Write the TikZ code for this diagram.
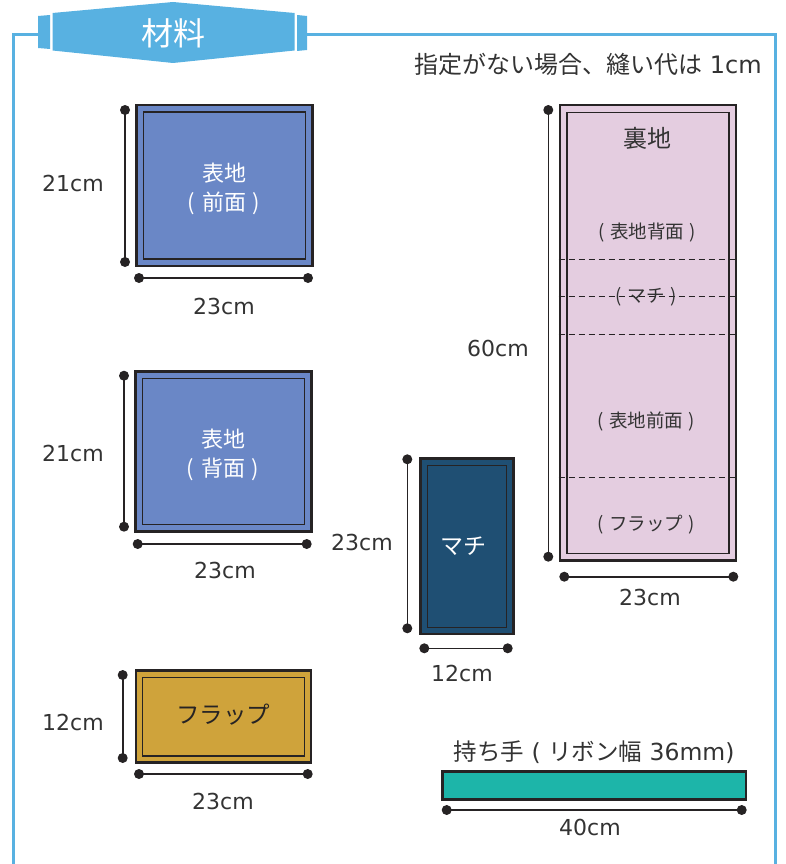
\documentclass[tikz,border=0pt]{standalone}
\usepackage{fontspec}
\setmainfont{DejaVu Sans}
\newfontfamily\jp{Noto Sans CJK JP}
\usetikzlibrary{calc}
\definecolor{frameblue}{HTML}{58B1E1}
\definecolor{dark}{HTML}{262324}
\definecolor{txt}{HTML}{333333}
\definecolor{omote}{HTML}{6A87C6}
\definecolor{machi}{HTML}{1F4F73}
\definecolor{flap}{HTML}{CFA33B}
\definecolor{ura}{HTML}{E4CDE0}
\definecolor{teal}{HTML}{1DB5A9}
\newcommand{\pgap}{\hspace{0.3em}}
\tikzset{
  piece/.style={draw=dark, line width=2.6pt, inner sep=0pt},
  innerrect/.style={draw=dark, line width=1.1pt},
  dot/.style={circle, fill=dark, inner sep=0pt, minimum size=10pt},
  dimline/.style={draw=dark, line width=1.6pt},
  dimlabel/.style={text=txt, font=\fontsize{22}{26}\selectfont, inner sep=0pt},
  wlabel/.style={text=white, font=\jp\fontsize{22}{26}\selectfont, inner sep=0pt},
  ulabel/.style={text=txt, font=\jp\fontsize{18.5}{22}\selectfont, inner sep=0pt},
  foldline/.style={draw=dark, line width=0.9pt, dash pattern=on 6pt off 4pt},
  frameline/.style={draw=frameblue, line width=3pt},
}
\begin{document}
\begin{tikzpicture}[x=1pt,y=-1pt]
\useasboundingbox (0,0) rectangle (785,864);
% frame
\draw[frameline] (38,35) -- (13,35) -- (13,864);
\draw[frameline] (307,35) -- (775,35) -- (775,864);
% banner
\fill[frameblue] (38,16) -- (50,15) -- (50,49) -- (38,48) -- cycle;
\fill[frameblue] (297,15) -- (307,16) -- (307,50) -- (297,51) -- cycle;
\fill[frameblue] (52.5,13) -- (173,2) -- (294.5,13) -- (294.5,50.5) -- (173,63) -- (52.5,50.5) -- cycle;
\node[text=white, font=\jp\fontsize{32}{36}\selectfont, inner sep=0pt] (title) at (173,33) {材料};
% note
\node[text=txt, font=\fontsize{24}{28}\selectfont, inner sep=0pt] (note) at (588,64) {{\jp 指定がない場合、縫い代は} 1cm};

% ---- piece 1: omote front
\node[piece, fill=omote, minimum width=176pt, minimum height=161pt] (p1) at (224.5,185.5) {};
\draw[innerrect] ($(p1.north west)+(8.5,8.3)$) rectangle ($(p1.south east)+(-8.5,-8.3)$);
\node[wlabel] (p1a) at (224,173) {表地};
\node[wlabel] (p1b) at (224,203) {(\pgap 前面\pgap )};
\node[dot] (p1v1) at (125,110) {};
\node[dot] (p1v2) at (125,262) {};
\draw[dimline] (p1v1.center) -- (p1v2.center);
\node[dot] (p1h1) at (139,278) {};
\node[dot] (p1h2) at (308,278) {};
\draw[dimline] (p1h1.center) -- (p1h2.center);
\node[dimlabel] (p1l1) at (73,183) {21cm};
\node[dimlabel] (p1l2) at (224,306) {23cm};

% ---- piece 2: omote back
\node[piece, fill=omote, minimum width=176pt, minimum height=160pt] (p2) at (223.5,451.7) {};
\draw[innerrect] ($(p2.north west)+(8.5,8.3)$) rectangle ($(p2.south east)+(-8.5,-8.3)$);
\node[wlabel] (p2a) at (223,439) {表地};
\node[wlabel] (p2b) at (223,469) {(\pgap 背面\pgap )};
\node[dot] (p2v1) at (124,375.7) {};
\node[dot] (p2v2) at (124,526.7) {};
\draw[dimline] (p2v1.center) -- (p2v2.center);
\node[dot] (p2h1) at (137.7,544) {};
\node[dot] (p2h2) at (306.7,544) {};
\draw[dimline] (p2h1.center) -- (p2h2.center);
\node[dimlabel] (p2l1) at (73,453) {21cm};
\node[dimlabel] (p2l2) at (225,570) {23cm};

% ---- piece 3: flap
\node[piece, fill=flap, minimum width=175pt, minimum height=92pt] (p3) at (223.5,716.7) {};
\draw[innerrect] ($(p3.north west)+(8,8.3)$) rectangle ($(p3.south east)+(-8,-8)$);
\node[wlabel, text=dark, font=\jp\fontsize{23.5}{26}\selectfont] (p3a) at (223,715) {フラップ};
\node[dot] (p3v1) at (122.7,675) {};
\node[dot] (p3v2) at (122.7,758) {};
\draw[dimline] (p3v1.center) -- (p3v2.center);
\node[dot] (p3h1) at (139,774) {};
\node[dot] (p3h2) at (307.7,774) {};
\draw[dimline] (p3h1.center) -- (p3h2.center);
\node[dimlabel] (p3l1) at (73,722) {12cm};
\node[dimlabel] (p3l2) at (223,801) {23cm};

% ---- piece 4: machi
\node[piece, fill=machi, minimum width=92.6pt, minimum height=175.7pt] (p4) at (467,546.2) {};
\draw[innerrect] ($(p4.north west)+(8,8.3)$) rectangle ($(p4.south east)+(-8,-8.3)$);
\node[wlabel, font=\jp\fontsize{23}{26}\selectfont] (p4a) at (463,546) {マチ};
\node[dot] (p4v1) at (407.3,459.3) {};
\node[dot] (p4v2) at (407.3,628.3) {};
\draw[dimline] (p4v1.center) -- (p4v2.center);
\node[dot] (p4h1) at (424.3,648.3) {};
\node[dot] (p4h2) at (507.7,648.3) {};
\draw[dimline] (p4h1.center) -- (p4h2.center);
\node[dimlabel] (p4l1) at (362,542) {23cm};
\node[dimlabel] (p4l2) at (462,673) {12cm};

% ---- piece 5: uraji
\node[piece, fill=ura, minimum width=176pt, minimum height=455.7pt] (p5) at (648,332.8) {};
\draw[innerrect] ($(p5.north west)+(8.3,9)$) rectangle ($(p5.south east)+(-8.3,-8.4)$);
\foreach \yy/\nm in {259/f1, 296.7/f2, 334/f3, 477.3/f4}{
  \coordinate (\nm a) at (p5.west |- 0,\yy);
  \coordinate (\nm b) at (p5.east |- 0,\yy);
  \draw[foldline] (\nm a) -- (\nm b);
}
\node[text=txt, font=\jp\fontsize{24}{27}\selectfont, inner sep=0pt] (p5a) at (647,138) {裏地};
\node[ulabel] (p5b) at (647,233) {(\pgap 表地背面\pgap )};
\node[ulabel] (p5c) at (646,296.7) {(\pgap マチ\pgap )};
\node[ulabel] (p5d) at (646,421.7) {(\pgap 表地前面\pgap )};
\node[ulabel] (p5e) at (646,525) {(\pgap フラップ\pgap )};
\node[dot] (p5v1) at (548.3,110) {};
\node[dot] (p5v2) at (548.3,556.7) {};
\draw[dimline] (p5v1.center) -- (p5v2.center);
\node[dot] (p5h1) at (564.3,576.7) {};
\node[dot] (p5h2) at (733.3,576.7) {};
\draw[dimline] (p5h1.center) -- (p5h2.center);
\node[dimlabel] (p5l1) at (498,348) {60cm};
\node[dimlabel] (p5l2) at (650,597) {23cm};

% ---- piece 6: handle
\node[piece, fill=teal, minimum width=303.3pt, minimum height=27.6pt] (p6) at (594.3,785.5) {};
\node[text=txt, font=\fontsize{23.5}{27}\selectfont, inner sep=0pt] (p6t) at (594,751.7) {{\jp 持ち手} ( {\jp リボン幅} 36mm)};
\node[dot] (p6h1) at (446.7,810) {};
\node[dot] (p6h2) at (741.7,810) {};
\draw[dimline] (p6h1.center) -- (p6h2.center);
\node[dimlabel] (p6l1) at (590,827) {40cm};
\end{tikzpicture}
\end{document}
